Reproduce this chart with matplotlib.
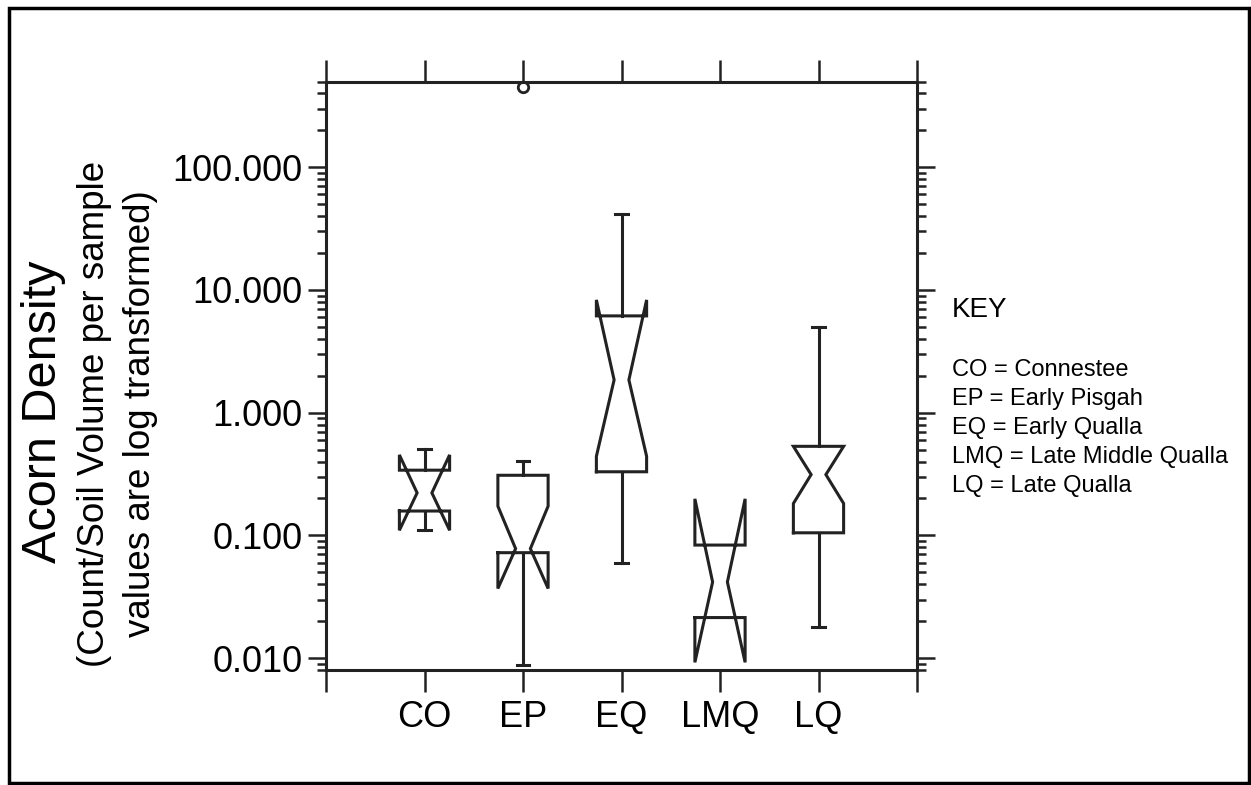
import matplotlib.pyplot as plt
from matplotlib.patches import Rectangle
from matplotlib.ticker import LogLocator, NullFormatter

# notched box plot values (log scale)
categories = ['CO', 'EP', 'EQ', 'LMQ', 'LQ']
medians = [0.222, 0.078, 1.85, 0.0417, 0.313]
q1 = [0.158, 0.0723, 0.330, 0.0214, 0.105]
q3 = [0.340, 0.309, 6.15, 0.0834, 0.532]
notch_lo = [0.110, 0.0369, 0.441, 0.00923, 0.182]
notch_hi = [0.453, 0.173, 8.3, 0.1986, 0.532]
whisker_lo = [0.111, 0.00877, 0.0593, 0.0214, 0.0178]
whisker_hi = [0.507, 0.407, 41.5, 0.0834, 4.98]
outlier_x = ['EP']
outlier_y = [450]

ytick_vals = [0.01, 0.1, 1, 10, 100]
ytick_labels = ['0.010', '0.100', '1.000', '10.000', '100.000']

key_title = 'KEY'
key_lines = ['CO = Connestee', 'EP = Early Pisgah', 'EQ = Early Qualla',
             'LMQ = Late Middle Qualla', 'LQ = Late Qualla']

plt.rcParams['font.family'] = ['Liberation Sans', 'DejaVu Sans']

W, H = 1251, 785
ink = '#222222'
lw = 2.2
box_w = 0.51
notch_w = 0.15
cap_w = 0.125

fig = plt.figure(figsize=(W / 100, H / 100), dpi=100)
ax = fig.add_axes([326 / W, 1 - 670 / H, (917 - 326) / W, (670 - 81.5) / H])

for i, name in enumerate(categories):
    x = i + 1
    l, r = x - box_w / 2, x + box_w / 2
    nl, nr = x - notch_w / 2, x + notch_w / 2
    xs = [l, l, nl, l, l, r, r, nr, r, r, l]
    ys = [q1[i], notch_lo[i], medians[i], notch_hi[i], q3[i],
          q3[i], notch_hi[i], medians[i], notch_lo[i], q1[i], q1[i]]
    ax.plot(xs, ys, color=ink, lw=lw, solid_joinstyle='miter')
    # whiskers with caps
    if whisker_hi[i] > q3[i]:
        ax.plot([x, x], [q3[i], whisker_hi[i]], color=ink, lw=lw)
        ax.plot([x - cap_w / 2, x + cap_w / 2], [whisker_hi[i]] * 2, color=ink, lw=lw)
    if whisker_lo[i] < q1[i]:
        ax.plot([x, x], [q1[i], whisker_lo[i]], color=ink, lw=lw)
        ax.plot([x - cap_w / 2, x + cap_w / 2], [whisker_lo[i]] * 2, color=ink, lw=lw)

ox = [categories.index(c) + 1 for c in outlier_x]
ax.plot(ox, outlier_y, 'o', ms=7.5, mfc='white', mec=ink, mew=2, clip_on=False)

ax.set_yscale('log')
ax.set_ylim(0.008, 500)
ax.set_xlim(0, len(categories) + 1)
ax.set_xticks(range(len(categories) + 2))
ax.set_xticklabels([''] + categories + [''], fontsize=26)
ax.set_yticks(ytick_vals)
ax.set_yticklabels(ytick_labels, fontsize=26)
ax.yaxis.set_minor_locator(LogLocator(base=10, subs=range(2, 10)))
ax.yaxis.set_minor_formatter(NullFormatter())

for s in ax.spines.values():
    s.set_linewidth(lw)
    s.set_color(ink)
ax.tick_params(which='major', length=13, width=1.8, color=ink, labelcolor='black',
               top=True, right=True, labeltop=False, labelright=False)
ax.tick_params(axis='y', which='major', pad=4)
ax.tick_params(axis='x', which='major', length=15.5, pad=6)
ax.tick_params(axis='y', which='minor', length=6.5, width=1.8, color=ink, right=True)

# axis title on the left
fig.text(44 / W, 1 - 412 / H, 'Acorn Density', rotation=90, fontsize=35,
         ha='center', va='center')
fig.text(95 / W, 1 - 414 / H, '(Count/Soil Volume per sample', rotation=90,
         fontsize=26.5, ha='center', va='center')
fig.text(141 / W, 1 - 414 / H, 'values are log transformed)', rotation=90,
         fontsize=26.5, ha='center', va='center')

# key on the right
fig.text(952 / W, 1 - 317 / H, key_title, fontsize=20, ha='left', va='baseline')
for j, line in enumerate(key_lines):
    fig.text(952 / W, 1 - (376 + 29 * j) / H, line, fontsize=17,
             ha='left', va='baseline')

# frame around the whole picture
fig.patches.append(Rectangle((9 / W, 1 - 783 / H), (1249 - 9) / W, (783 - 8) / H,
                             transform=fig.transFigure, fill=False,
                             edgecolor='black', lw=2.5))

fig.savefig('out.png', dpi=100)
